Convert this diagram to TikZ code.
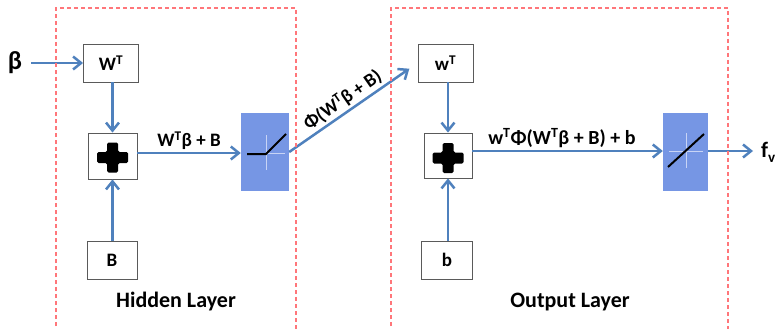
\documentclass[tikz,border=0pt]{standalone}
\usepackage{fontspec}
\setmainfont{Carlito}
\usetikzlibrary{arrows.meta,calc}
\definecolor{arrblue}{RGB}{79,129,189}
\definecolor{actblue}{RGB}{118,150,228}
\definecolor{dashred}{RGB}{255,118,122}
\definecolor{boxgray}{RGB}{90,90,90}
\definecolor{crossw}{RGB}{200,212,245}
\begin{document}
\begin{tikzpicture}[x=1pt,y=1pt,
  arr/.style={draw=arrblue, line width=2.5pt, -{Straight Barb[length=8pt,width=13pt]}},
  wbox/.style={draw=boxgray, line width=0.9pt, fill=white, inner sep=0pt, font=\fontsize{19}{22}\selectfont\bfseries},
  actbox/.style={fill=actblue, draw=none, minimum width=48pt, minimum height=78pt, inner sep=0pt},
  layer/.style={draw=dashred, line width=1.5pt, dash pattern=on 4pt off 3pt},
  lbl/.style={font=\fontsize{19}{22}\selectfont\bfseries, inner sep=2pt},
  ttl/.style={font=\fontsize{22}{26}\selectfont\bfseries, inner sep=0pt},
  crossline/.style={draw=crossw, line width=0.8pt},
  actline/.style={draw=black, line width=2pt}
]
\clip (0,0) rectangle (779,-329);
\fill[white] (0,0) rectangle (779,-329);

% hidden layer nodes
\node[lbl, inner xsep=9pt] (beta) at (15,-63) {\fontsize{26}{30}\selectfont β};
\node[wbox, minimum width=55pt, minimum height=38pt] (wt) at (111,-63) {W\textsuperscript{T}};
\node[wbox, minimum width=49pt, minimum height=46pt] (plus1) at (112.5,-156) {};
\node[wbox, minimum width=50pt, minimum height=38pt] (B1) at (112,-260) {B};
\node[actbox] (act1) at (265,-152) {};
\node[ttl] (hid) at (176,-302) {Hidden Layer};

% output layer nodes
\node[wbox, minimum width=55pt, minimum height=38pt] (wt2) at (445.5,-63) {w\textsuperscript{T}};
\node[wbox, minimum width=48pt, minimum height=45pt] (plus2) at (448,-155.5) {};
\node[wbox, minimum width=51pt, minimum height=38pt] (b2) at (447,-260) {b};
\node[actbox, minimum width=45pt] (act2) at (685.5,-152) {};
\node[ttl] (outl) at (570,-302) {Output Layer};
\node[font=\fontsize{22}{26}\selectfont\bfseries, anchor=west, inner sep=0pt] (fv) at (761,-152) {f\raisebox{-5pt}{\fontsize{15}{15}\selectfont v}};
\coordinate (fvin) at (753,-151);

% plus signs
\foreach \p/\dy in {plus1/-1.5, plus2/-2.5}{
  \begin{scope}[shift={($(\p.center)+(0,\dy)$)}]
    \fill[black, rounded corners=1.5pt] (-5.5,15) -- (5.5,15) -- (5.5,5.5) -- (15.5,5.5) -- (15.5,-5.5) -- (5.5,-5.5) -- (5.5,-15) -- (-5.5,-15) -- (-5.5,-5.5) -- (-15.5,-5.5) -- (-15.5,5.5) -- (-5.5,5.5) -- cycle;
  \end{scope}
}

% activation glyphs
\begin{scope}[shift={(act1.center)}]
  \draw[crossline] (1,17) -- (1,-18);
  \draw[crossline] (-17,-1) -- (20,-1);
  \draw[actline] (-18,-2) -- (1,-2) -- (21,18);
\end{scope}
\begin{scope}[shift={(act2.center)}]
  \draw[crossline] (0.5,19) -- (0.5,-16);
  \draw[crossline] (-16.5,1) -- (17.5,1);
  \draw[actline] (-17.5,-15) -- (18.5,18);
\end{scope}

% connectors
\draw[arr] (beta.east) -- (wt.west);
\draw[arr] (wt.south -| plus1.north) -- (plus1.north);
\draw[arr] (B1.north -| plus1.south) -- (plus1.south);
\draw[arr] ([yshift=3pt]plus1.east) -- node[lbl, above, pos=0.5] {W\textsuperscript{T}β + B} ([yshift=3pt]plus1.east -| act1.west);
\draw[arr, shorten >=10pt] (act1.east) -- node[lbl, above, sloped, pos=0.47] {Φ(W\textsuperscript{T}β + B)} (wt2.west);
\draw[arr] (wt2.south -| plus2.north) -- (plus2.north);
\draw[arr] (b2.north -| plus2.south) -- (plus2.south);
\draw[arr] ([yshift=4.5pt]plus2.east) -- node[lbl, above, pos=0.47, font=\fontsize{20}{23}\selectfont\bfseries] {w\textsuperscript{T}Φ(W\textsuperscript{T}β + B) + b} ([yshift=4.5pt]plus2.east -| act2.west);
\draw[arr] ([yshift=1pt]act2.east) -- (fvin);

% layer frames (on top, as in the reference)
\draw[layer] (56,-340) -- (56,-8) -- (296,-8) -- (296,-340);
\draw[layer] (391,-340) -- (391,-8) -- (728,-8) -- (728,-340);
\end{tikzpicture}
\end{document}
